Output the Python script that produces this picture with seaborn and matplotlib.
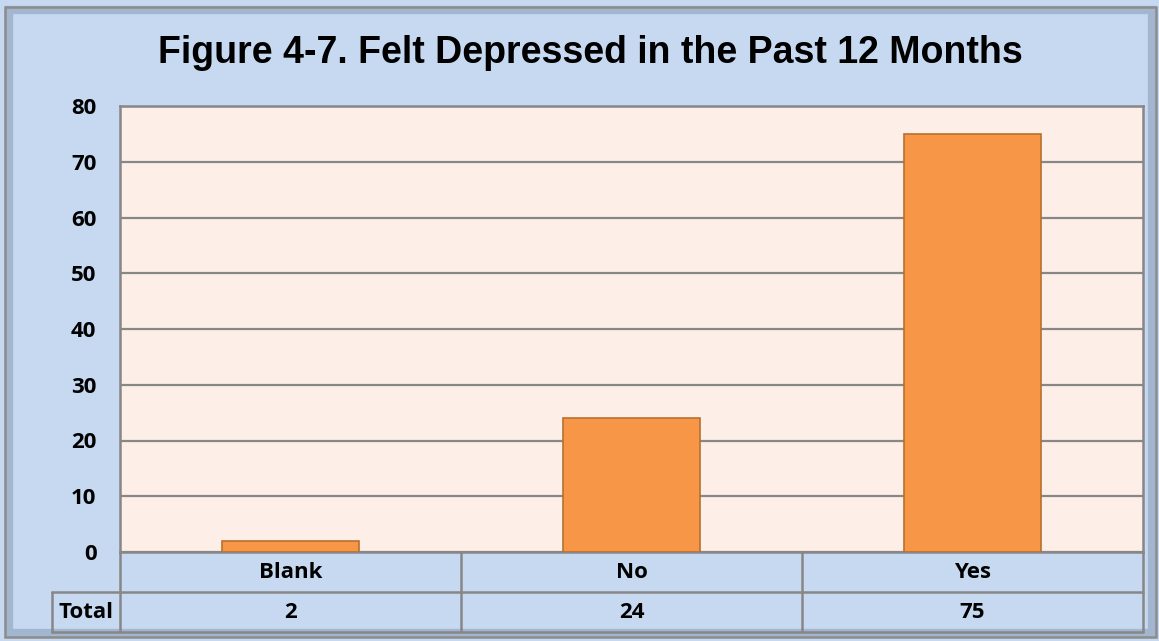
import pandas as pd
import matplotlib
matplotlib.use('Agg')
import matplotlib.pyplot as plt
import seaborn as sns
from matplotlib.patches import Rectangle
from matplotlib.lines import Line2D

# data
categories = ['Blank', 'No', 'Yes']
totals = [2, 24, 75]
yticks = [0, 10, 20, 30, 40, 50, 60, 70, 80]

df = pd.DataFrame({'answer': categories, 'total': totals})

sns.set_style('white')
plt.rcParams['font.family'] = ['Open Sans', 'DejaVu Sans']
plt.rcParams['text.color'] = 'black'
plt.rcParams['ytick.color'] = 'black'

W, H = 1159, 641
fig = plt.figure(figsize=(W / 100, H / 100), dpi=100)
fig.patch.set_facecolor('#C6D9F1')

grid_c = '#878787'

# plot area in pixels
left, right, top, bottom = 120, 1143, 106, 552
ax = fig.add_axes([left / W, 1 - bottom / H, (right - left) / W, (bottom - top) / H])
ax.set_facecolor('#FDEEE8')

sns.barplot(data=df, x='answer', y='total', color='#F79646', saturation=1,
            width=0.4, edgecolor='#B7702F', linewidth=1.2, ax=ax, zorder=3)
ax.set_ylim(0, 80)
ax.set_xlim(-0.5, 2.5)
ax.set_yticks(yticks)
ax.set_yticklabels([str(v) for v in yticks], fontsize=16, fontweight='bold')
ax.tick_params(axis='y', length=0, pad=17, labelcolor='black')
ax.set_xticks([])
ax.set_xlabel('')
ax.set_ylabel('')
ax.grid(axis='y', color=grid_c, linewidth=1.6, zorder=0)
ax.set_axisbelow(True)
for s in ax.spines.values():
    s.set_color(grid_c)
    s.set_linewidth(1.8)

fig.text(590 / W, 1 - 53 / H, 'Figure 4-7. Felt Depressed in the Past 12 Months',
         ha='center', va='center', fontsize=27, fontweight='bold', color='black',
         family=['Liberation Sans', 'DejaVu Sans'])

# data table below the axis
def px(x, y):
    return x / W, 1 - y / H

row1, row2, row3 = 552, 592, 632
col_w = (right - left) / 3
lines = [
    ((left, row2), (right, row2)),
    ((52, row2), (left, row2)),
    ((52, row3), (right, row3)),
    ((52, row2), (52, row3)),
    ((left, row1), (left, row3)),
    ((right, row1), (right, row3)),
]
for i in range(1, 3):
    xx = left + col_w * i
    lines.append(((xx, row1), (xx, row3)))
for (x0, y0), (x1, y1) in lines:
    a = px(x0, y0)
    b = px(x1, y1)
    fig.add_artist(Line2D([a[0], b[0]], [a[1], b[1]], color=grid_c, linewidth=1.8))

for i, (cat, val) in enumerate(zip(categories, totals)):
    cx = left + col_w * (i + 0.5)
    fig.text(*px(cx, (row1 + row2) / 2), cat, ha='center', va='center',
             fontsize=16, fontweight='bold', color='black')
    fig.text(*px(cx, (row2 + row3) / 2), str(val), ha='center', va='center',
             fontsize=16, fontweight='bold', color='black')
fig.text(*px(86, (row2 + row3) / 2), 'Total', ha='center', va='center',
         fontsize=16, fontweight='bold', color='black')

# bevelled outer frame
fig.add_artist(Rectangle((9 / W, 8 / H), (W - 16) / W, (H - 18) / H,
                         transform=fig.transFigure, fill=False,
                         edgecolor='#A3B6CF', linewidth=6))
fig.add_artist(Rectangle((5 / W, 4 / H), (W - 8) / W, (H - 11) / H,
                         transform=fig.transFigure, fill=False,
                         edgecolor='#8C8C8C', linewidth=1.8))

fig.savefig('out.png', dpi=100, facecolor=fig.get_facecolor())
